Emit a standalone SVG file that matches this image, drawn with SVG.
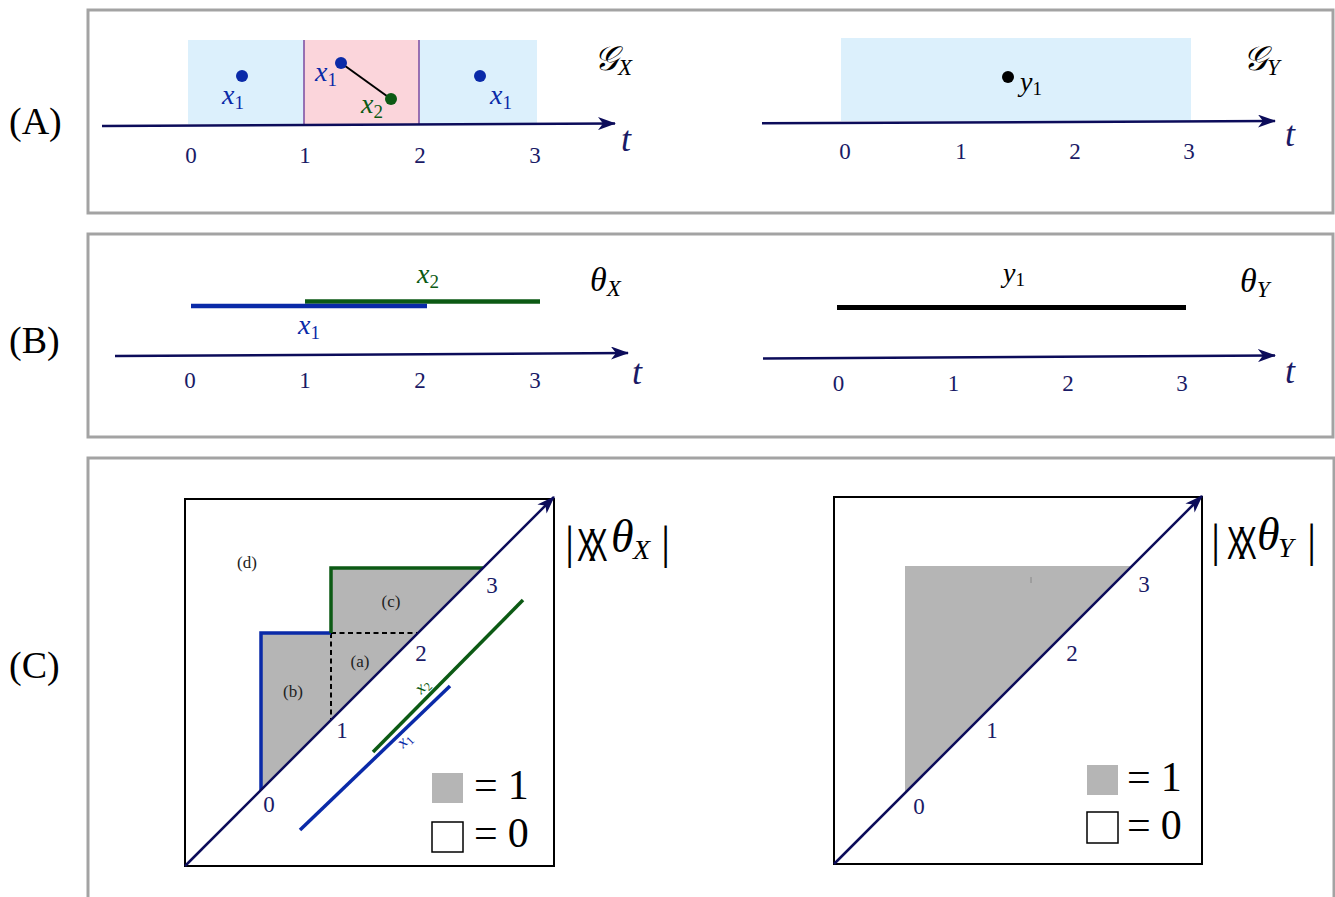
<svg xmlns="http://www.w3.org/2000/svg" width="1335" height="897" viewBox="0 0 1335 897">
<style>
.frame{fill:none;stroke:#a3a3a3;stroke-width:3}
.lab{font-family:"Liberation Serif",serif;font-size:38px;fill:#000}
.tick{font-family:"Liberation Serif",serif;font-size:23px;fill:#1a1a66;text-anchor:middle}
.v{font-family:"Liberation Serif",serif;font-style:italic}
.sub{font-style:normal;font-size:19px}
.axis{stroke:#0c0c5a;stroke-width:2.5;fill:none}
.blue{fill:#0a2aa8}
.green{fill:#0c5a14}
.sm{font-family:"Liberation Serif",serif;font-size:17px;fill:#222;text-anchor:middle}
.leg{font-family:"Liberation Serif",serif;font-size:42px;fill:#000}
.big{font-family:"Liberation Serif",serif;font-size:46px;fill:#000}
.bow{font-family:"Liberation Sans",sans-serif;font-size:46px;fill:#000}
</style>
<defs>
<marker id="arr" viewBox="0 0 18 13" refX="17" refY="6.5" markerWidth="18" markerHeight="13" markerUnits="userSpaceOnUse" orient="auto">
<path d="M0,0 L18,6.5 L0,13 L5,6.5 z" fill="#0c0c5a"/>
</marker>
</defs>
<rect width="1335" height="897" fill="#fff"/>

<g id="labels">
<text class="lab" x="9" y="134">(A)</text>
<text class="lab" x="9" y="353">(B)</text>
<text class="lab" x="9" y="678">(C)</text>
</g>

<g id="frames">
<rect class="frame" x="88" y="10" width="1245" height="203"/>
<rect class="frame" x="88" y="234" width="1245" height="203"/>
<rect class="frame" x="88" y="458" width="1246" height="460"/>
</g>

<g id="panelA-left">
<rect x="188" y="40" width="349" height="84" fill="#dcf0fc"/>
<rect x="304" y="40" width="115" height="84" fill="#fbd5db"/>
<line x1="304" y1="40" x2="304" y2="124" stroke="#7a4aa0" stroke-width="1.5"/>
<line x1="419" y1="40" x2="419" y2="124" stroke="#7a4aa0" stroke-width="1.5"/>
<line class="axis" x1="102" y1="126" x2="615" y2="123.5" marker-end="url(#arr)"/>
<text class="tick" x="191" y="163">0</text>
<text class="tick" x="305" y="163">1</text>
<text class="tick" x="420" y="163">2</text>
<text class="tick" x="535" y="163">3</text>
<text class="v" x="626" y="151" font-size="36" fill="#1a1a66" text-anchor="middle">t</text>
<line x1="341" y1="63" x2="391" y2="99" stroke="#000" stroke-width="2"/>
<circle cx="242" cy="76" r="6" class="blue"/>
<circle cx="341" cy="63" r="6" class="blue"/>
<circle cx="391" cy="99" r="6" class="green"/>
<circle cx="480" cy="76" r="6" class="blue"/>
<text class="v blue" x="233" y="104" font-size="28" text-anchor="middle">x<tspan class="sub" dy="5">1</tspan></text>
<text class="v blue" x="326" y="81" font-size="28" text-anchor="middle">x<tspan class="sub" dy="5">1</tspan></text>
<text class="v green" x="372" y="113" font-size="28" text-anchor="middle">x<tspan class="sub" dy="5">2</tspan></text>
<text class="v blue" x="501" y="104" font-size="28" text-anchor="middle">x<tspan class="sub" dy="5">1</tspan></text>
<text class="v" x="594" y="70" font-size="34" fill="#000">𝒢<tspan font-size="23" dy="5">X</tspan></text>
</g>

<g id="panelA-right">
<rect x="841" y="38" width="350" height="83" fill="#dcf0fc"/>
<line class="axis" x1="762" y1="123.3" x2="1275" y2="121" marker-end="url(#arr)"/>
<text class="tick" x="845" y="159">0</text>
<text class="tick" x="961" y="159">1</text>
<text class="tick" x="1075" y="159">2</text>
<text class="tick" x="1189" y="159">3</text>
<text class="v" x="1290" y="146" font-size="36" fill="#1a1a66" text-anchor="middle">t</text>
<circle cx="1008" cy="77" r="6" fill="#000"/>
<text class="v" x="1020" y="91" font-size="28" fill="#000">y<tspan class="sub" dy="4">1</tspan></text>
<text class="v" x="1243" y="70" font-size="34" fill="#000">𝒢<tspan font-size="23" dy="5">Y</tspan></text>
</g>

<g id="panelB-left">
<line x1="305" y1="301.5" x2="540" y2="301.5" stroke="#0c5a14" stroke-width="4.5"/>
<line x1="191" y1="306" x2="427" y2="306" stroke="#0a2aa8" stroke-width="4.5"/>
<text class="v green" x="428" y="283" font-size="28" text-anchor="middle">x<tspan class="sub" dy="5">2</tspan></text>
<text class="v blue" x="309" y="334" font-size="28" text-anchor="middle">x<tspan class="sub" dy="5">1</tspan></text>
<line class="axis" x1="115" y1="356" x2="628" y2="353" marker-end="url(#arr)"/>
<text class="tick" x="190" y="388">0</text>
<text class="tick" x="305" y="388">1</text>
<text class="tick" x="420" y="388">2</text>
<text class="tick" x="535" y="388">3</text>
<text class="v" x="637" y="384" font-size="36" fill="#1a1a66" text-anchor="middle">t</text>
<text class="v" x="590" y="291" font-size="34" fill="#000">θ<tspan font-size="23" dy="5">X</tspan></text>
</g>

<g id="panelB-right">
<line x1="837" y1="307.5" x2="1186" y2="307.5" stroke="#000" stroke-width="5"/>
<text class="v" x="1003" y="282" font-size="28" fill="#000">y<tspan class="sub" dy="4">1</tspan></text>
<line class="axis" x1="763" y1="358.5" x2="1275" y2="355.5" marker-end="url(#arr)"/>
<text class="tick" x="838.5" y="391">0</text>
<text class="tick" x="953.5" y="391">1</text>
<text class="tick" x="1068" y="391">2</text>
<text class="tick" x="1182" y="391">3</text>
<text class="v" x="1290" y="383" font-size="36" fill="#1a1a66" text-anchor="middle">t</text>
<text class="v" x="1240" y="292" font-size="34" fill="#000">θ<tspan font-size="23" dy="5">Y</tspan></text>
</g>

<g id="panelC-left">
<rect x="185" y="499" width="369" height="367" fill="#fff" stroke="#000" stroke-width="2"/>
<path d="M261,790 L261,633 L331,633 L331,568 L483,568 Z" fill="#b5b5b5"/>
<path d="M331,633 L418,633 M331,633 L331,720" fill="none" stroke="#000" stroke-width="2" stroke-dasharray="5,3.5"/>
<path d="M261,790 L261,633 L331,633" fill="none" stroke="#0a2aa8" stroke-width="3.5"/>
<path d="M331,633 L331,568 L483,568" fill="none" stroke="#0c5a14" stroke-width="3.5"/>
<line class="axis" x1="185" y1="866" x2="554" y2="497" stroke-width="2" marker-end="url(#arr)"/>
<line x1="373" y1="752" x2="523" y2="600" stroke="#0c5a14" stroke-width="3.5"/>
<line x1="300" y1="830" x2="450" y2="686" stroke="#0a2aa8" stroke-width="3.5"/>
<text class="v green" transform="translate(426,690) rotate(-45)" font-size="17" text-anchor="middle">x<tspan font-size="12" font-style="normal" dy="3">2</tspan></text>
<text class="v blue" transform="translate(408,744) rotate(-45)" font-size="17" text-anchor="middle">x<tspan font-size="12" font-style="normal" dy="3">1</tspan></text>
<text class="sm" x="247" y="568">(d)</text>
<text class="sm" x="391" y="607">(c)</text>
<text class="sm" x="360" y="667">(a)</text>
<text class="sm" x="293" y="697">(b)</text>
<text class="tick" x="269" y="812">0</text>
<text class="tick" x="342" y="738">1</text>
<text class="tick" x="421" y="661">2</text>
<text class="tick" x="492" y="593">3</text>
<rect x="432" y="773" width="31" height="30" fill="#b5b5b5"/>
<text class="leg" x="474" y="799">=<tspan dx="10">1</tspan></text>
<rect x="432" y="822" width="31" height="30" fill="#fff" stroke="#000" stroke-width="1.5"/>
<text class="leg" x="474" y="847">=<tspan dx="10">0</tspan></text>
<text class="big" x="565" y="558">|</text>
<text class="bow" transform="translate(577,561) scale(0.62,1)" letter-spacing="-12">XX</text>
<text class="v big" x="611" y="552" font-size="40">θ</text>
<text class="v" x="633" y="559" font-size="28">X</text>
<text class="big" x="661" y="558">|</text>
</g>

<g id="panelC-right">
<rect x="834" y="497" width="368" height="367" fill="#fff" stroke="#000" stroke-width="2"/>
<path d="M905,793 L905,566 L1132,566 Z" fill="#b5b5b5"/>
<line x1="1031" y1="577" x2="1031" y2="583" stroke="#888" stroke-width="1"/>
<line class="axis" x1="834" y1="864" x2="1202" y2="496" stroke-width="2" marker-end="url(#arr)"/>
<text class="tick" x="919" y="814">0</text>
<text class="tick" x="992" y="738">1</text>
<text class="tick" x="1072" y="661">2</text>
<text class="tick" x="1144" y="592">3</text>
<rect x="1087" y="765" width="31" height="30" fill="#b5b5b5"/>
<text class="leg" x="1127" y="791">=<tspan dx="10">1</tspan></text>
<rect x="1087" y="812" width="31" height="31" fill="#fff" stroke="#000" stroke-width="1.5"/>
<text class="leg" x="1127" y="839">=<tspan dx="10">0</tspan></text>
<text class="big" x="1211" y="556">|</text>
<text class="bow" transform="translate(1227,559) scale(0.6,1)" letter-spacing="-12">XX</text>
<text class="v big" x="1257" y="550" font-size="40">θ</text>
<text class="v" x="1278" y="557" font-size="28">Y</text>
<text class="big" x="1307" y="556">|</text>
</g>
</svg>
